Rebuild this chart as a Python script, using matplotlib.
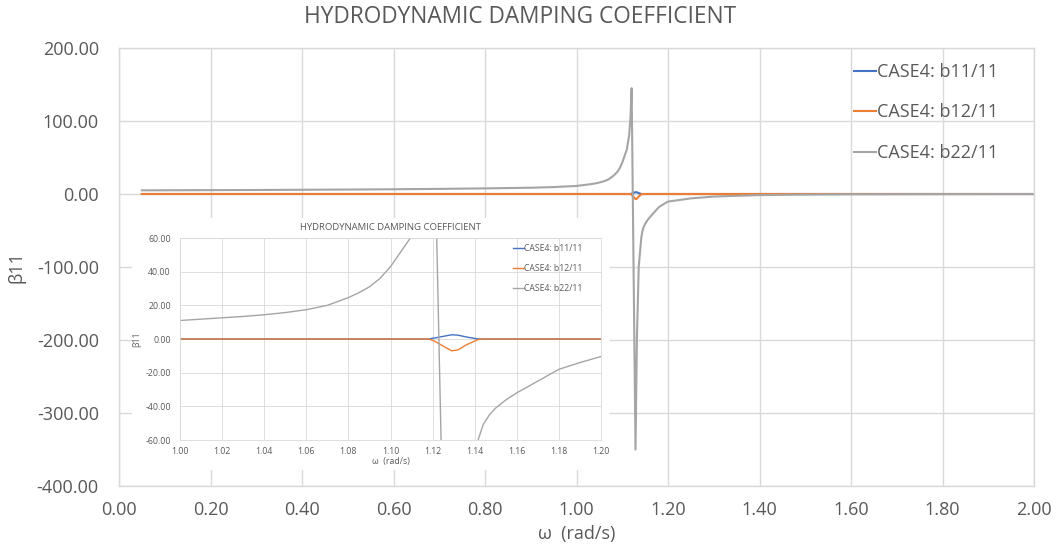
import matplotlib
matplotlib.use("Agg")
import matplotlib.pyplot as plt
from matplotlib.ticker import MultipleLocator, FormatStrFormatter

plt.rcParams['font.family'] = ['Open Sans', 'DejaVu Sans']

# Frequency grid (rad/s) shared by all three series
omega = [0.05, 0.10, 0.20, 0.30, 0.40, 0.50, 0.60, 0.70, 0.80, 0.90,
         0.95, 1.00, 1.01, 1.02, 1.03, 1.04, 1.05, 1.06, 1.07, 1.08,
         1.085, 1.09, 1.095, 1.10, 1.105, 1.11, 1.115, 1.118, 1.1205, 1.129,
         1.132, 1.136, 1.1416, 1.144, 1.147, 1.15, 1.155, 1.16, 1.17, 1.18,
         1.19, 1.20, 1.25, 1.30, 1.40, 1.50, 1.60, 1.80, 2.00]

# Non-dimensional damping coefficients
b11 = [0.0, 0.0, 0.0, 0.0, 0.0, 0.0, 0.0, 0.0, 0.0, 0.0,
       0.0, 0.0, 0.0, 0.0, 0.0, 0.0, 0.0, 0.0, 0.0, 0.0,
       0.0, 0.0, 0.0, 0.0, 0.0, 0.0, 0.0, 0.0, 0.5, 2.5,
       2.3, 1.2, 0.0, 0.0, 0.0, 0.0, 0.0, 0.0, 0.0, 0.0,
       0.0, 0.0, 0.0, 0.0, 0.0, 0.0, 0.0, 0.0, 0.0]
b12 = [0.0, 0.0, 0.0, 0.0, 0.0, 0.0, 0.0, 0.0, 0.0, 0.0,
       0.0, 0.0, 0.0, 0.0, 0.0, 0.0, 0.0, 0.0, 0.0, 0.0,
       0.0, 0.0, 0.0, 0.0, 0.0, 0.0, 0.0, 0.0, -1.0, -7.0,
       -6.5, -3.5, -0.3, 0.0, 0.0, 0.0, 0.0, 0.0, 0.0, 0.0,
       0.0, 0.0, 0.0, 0.0, 0.0, 0.0, 0.0, 0.0, 0.0]
b22 = [5.0, 5.1, 5.3, 5.5, 5.8, 6.1, 6.5, 7.0, 7.7, 8.6,
       9.5, 11.0, 11.8, 12.6, 13.4, 14.4, 15.7, 17.4, 20.0, 24.6,
       27.5, 31.0, 36.0, 43.0, 52.0, 61.0, 80.0, 105.0, 145.0, -350.0,
       -200.0, -100.0, -60.0, -51.0, -45.0, -41.0, -36.0, -32.0, -25.0, -18.0,
       -14.0, -10.4, -6.0, -3.5, -1.5, -0.8, -0.4, -0.2, -0.1]

labels = ["CASE4: b11/11", "CASE4: b12/11", "CASE4: b22/11"]
colors = ["#4472C4", "#ED7D31", "#A5A5A5"]
series = [b11, b12, b22]

TXT = "#595959"
GRID = "#D9D9D9"
TITLE = "HYDRODYNAMIC DAMPING COEFFICIENT"


def style_axes(ax, fs, xmaj, ymaj, lw_grid):
    ax.xaxis.set_major_locator(MultipleLocator(xmaj))
    ax.yaxis.set_major_locator(MultipleLocator(ymaj))
    ax.xaxis.set_major_formatter(FormatStrFormatter('%.2f'))
    ax.yaxis.set_major_formatter(FormatStrFormatter('%.2f'))
    ax.grid(True, color=GRID, lw=lw_grid)
    ax.set_axisbelow(True)
    ax.tick_params(length=0, labelsize=fs, colors=TXT)
    for s in ax.spines.values():
        s.set_color(GRID)
        s.set_linewidth(lw_grid)


W, H = 1057, 550
fig = plt.figure(figsize=(W / 100, H / 100), dpi=100)

# Main chart
ax = fig.add_axes([119 / W, 1 - 486 / H, (1034 - 119) / W, (486 - 48) / H])
for y, c, lab in zip(series, colors, labels):
    ax.plot(omega, y, color=c, lw=1.5, label=lab)
ax.set_xlim(0, 2.0)
ax.set_ylim(-400, 200)
style_axes(ax, 13, 0.2, 100, 1.0)
ax.tick_params(axis='x', pad=11)
ax.tick_params(axis='y', pad=14.5)
ax.set_xlabel("ω  (rad/s)", fontsize=13, color=TXT, labelpad=4)
ax.set_ylabel("β11", fontsize=13, color=TXT, labelpad=8)
fig.text(0.492, 1 - 17 / H, TITLE, ha='center', va='center', fontsize=16.3, color=TXT)
leg = ax.legend(loc='upper right', bbox_to_anchor=(0.975, 0.995), frameon=False,
                fontsize=13, handlelength=1.2, handletextpad=0.1, labelspacing=1.25,
                borderaxespad=0.3)
for t in leg.get_texts():
    t.set_color(TXT)

# Zoomed view around the resonance, on a white panel
panel = fig.add_axes([132 / W, 1 - 470 / H, (610 - 132) / W, (470 - 218) / H])
panel.set_facecolor('white')
panel.set_xticks([])
panel.set_yticks([])
for s in panel.spines.values():
    s.set_visible(False)

ins = fig.add_axes([180 / W, 1 - 440 / H, (601 - 180) / W, (440 - 238) / H])
for y, c, lab in zip(series, colors, labels):
    ins.plot(omega, y, color=c, lw=1.0, label=lab)
ins.set_xlim(1.0, 1.2)
ins.set_ylim(-60, 60)
style_axes(ins, 6.3, 0.02, 20, 0.6)
ins.tick_params(axis='x', pad=5)
ins.tick_params(axis='y', pad=6.5)
ins.set_xlabel("ω  (rad/s)", fontsize=6.3, color=TXT, labelpad=1)
ins.set_ylabel("β11", fontsize=6.3, color=TXT, labelpad=3)
ins.set_title(TITLE, fontsize=6.8, color=TXT, pad=6)
ileg = ins.legend(loc='upper right', frameon=False, fontsize=6.2, handlelength=1.2,
                  handletextpad=0.1, labelspacing=1.25, borderaxespad=0.0,
                  bbox_to_anchor=(0.965, 0.985))
for t in ileg.get_texts():
    t.set_color(TXT)

fig.savefig("out.png", dpi=100)
